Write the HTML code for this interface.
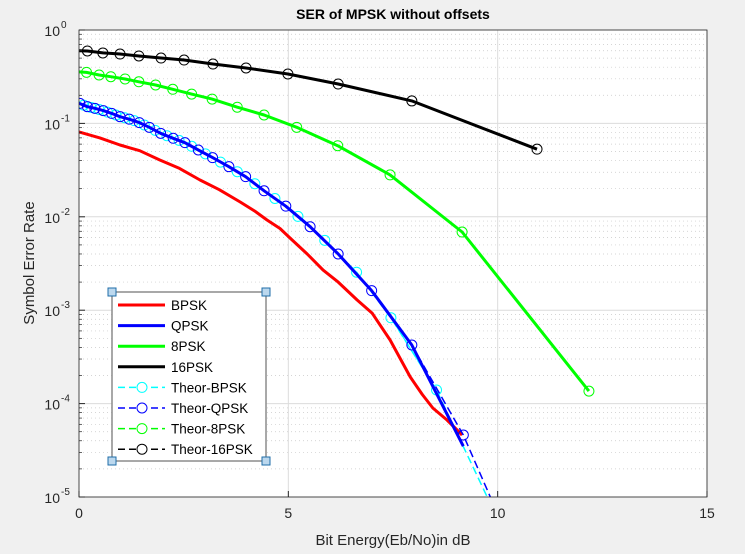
<!DOCTYPE html>
<html><head><meta charset="utf-8"><style>
body{margin:0;background:#f0f0f0;}
svg{display:block;font-family:"Liberation Sans",sans-serif;}
</style></head><body>
<svg id="chart" width="745" height="554" xmlns="http://www.w3.org/2000/svg">
<rect x="0" y="0" width="745" height="554" fill="#f0f0f0"/>
<rect x="79" y="30" width="628" height="467" fill="#fff"/>
<g id="grid"></g>
<g id="series"></g>
<rect x="79" y="30" width="628" height="467" fill="none" stroke="#262626" stroke-width="0.8"/>
<g id="axes"></g>
<text x="393" y="19" text-anchor="middle" font-size="14" font-weight="bold" fill="#000">SER of MPSK without offsets</text>
<text x="393" y="545" text-anchor="middle" font-size="15" fill="#262626">Bit Energy(Eb/No)in dB</text>
<text transform="translate(34,263) rotate(-90)" text-anchor="middle" font-size="15" fill="#262626">Symbol Error Rate</text>
<g id="legend"></g>
</svg>
<script>
const xTicks=[0,5,10,15];
const yTickExps=[0,-1,-2,-3,-4,-5];
const bpskX=[0.0,0.5,0.98,1.45,1.93,2.4,2.89,3.35,3.85,4.2,4.49,4.8,5.04,5.45,5.83,6.19,6.64,7.0,7.43,7.91,8.2,8.45,8.79,9.15];
const bpskY=[0.0809,0.0700,0.0587,0.0510,0.0406,0.0330,0.0248,0.0195,0.0144,0.0115,0.00925,0.0075,0.00593,0.0040,0.00269,0.0020,0.00129,0.00093,0.00048,0.000193,0.000125,0.0000897,0.0000667,0.0000461];
const qpskX=[0.0,0.2,0.38,0.58,0.78,0.98,1.2,1.44,1.68,1.95,2.25,2.53,2.85,3.19,3.58,3.98,4.42,4.94,5.52,6.19,6.99,7.95,9.18];
const qpskY=[0.164,0.151,0.145,0.137,0.128,0.118,0.111,0.102,0.0908,0.0783,0.0693,0.0622,0.0519,0.0430,0.0344,0.0269,0.0190,0.0130,0.00783,0.0040,0.00162,0.000424,0.000035];
const tqpskX=[0.02,0.2,0.38,0.58,0.78,0.98,1.2,1.44,1.68,1.95,2.25,2.53,2.85,3.19,3.58,3.98,4.42,4.94,5.52,6.19,6.99,7.95,9.18,10.0];
const tqpskY=[0.164,0.151,0.145,0.137,0.128,0.118,0.111,0.102,0.0908,0.0783,0.0693,0.0622,0.0519,0.0430,0.0344,0.0269,0.0190,0.0130,0.00783,0.0040,0.00162,0.000424,0.0000461,0.0000066];
const tbpskX=[0.11,0.29,0.48,0.68,0.88,1.09,1.32,1.56,1.82,2.1,2.39,2.69,3.02,3.38,3.78,4.2,4.68,5.23,5.87,6.63,7.45,8.54,10.0];
const tbpskY=[0.157,0.148,0.141,0.132,0.123,0.115,0.107,0.0962,0.0843,0.0738,0.0658,0.0569,0.0472,0.0385,0.0304,0.0226,0.0157,0.0101,0.0056,0.00255,0.00083,0.00014,0.0000058];
const psk8X=[0.18,0.48,0.76,1.1,1.43,1.83,2.24,2.69,3.18,3.78,4.42,5.2,6.18,7.43,9.15,12.18];
const psk8Y=[0.352,0.330,0.316,0.299,0.279,0.258,0.232,0.206,0.182,0.149,0.123,0.0908,0.0577,0.0281,0.00687,0.000136];
const sim8X=[0.0,0.18,0.48,0.76,1.1,1.43,1.83,2.24,2.69,3.18,3.78,4.42,5.2,6.18,7.43,9.15,12.18];
const sim8Y=[0.356,0.352,0.330,0.316,0.299,0.279,0.258,0.232,0.206,0.182,0.149,0.123,0.0908,0.0577,0.0281,0.00687,0.000136];
const psk16X=[0.2,0.57,0.98,1.43,1.96,2.51,3.2,3.99,4.99,6.19,7.95,10.94];
const psk16Y=[0.596,0.568,0.553,0.527,0.501,0.477,0.432,0.392,0.338,0.264,0.174,0.053];
const sim16X=[0.0,0.2,0.57,0.98,1.43,1.96,2.51,3.2,3.99,4.99,6.19,7.95,10.94];
const sim16Y=[0.60,0.596,0.568,0.553,0.527,0.501,0.477,0.432,0.392,0.338,0.264,0.174,0.053];

const NS="http://www.w3.org/2000/svg";
const L=79,R=707,T=30,B=497;
function sx(v){return L+(v-0)/(15-0)*(R-L);}
function sy(v){return T+(-Math.log10(v))/5*(B-T);}
function mk(tag,attrs,parent){const e=document.createElementNS(NS,tag);for(const k in attrs)e.setAttribute(k,attrs[k]);parent.appendChild(e);return e;}
const grid=document.getElementById('grid'),axes=document.getElementById('axes'),series=document.getElementById('series'),legend=document.getElementById('legend');

for(let d=0;d<5;d++){for(let m=2;m<=9;m++){const y=sy(Math.pow(10,-d-1)*m);
 const ln=mk('line',{x1:L,x2:R,y1:y,y2:y,stroke:'#c8c8c8','stroke-width':0.7,'stroke-dasharray':'1,3'},grid);
 
 
 const tk=mk('line',{x1:L,x2:L+3,y1:y,y2:y,stroke:'#262626','stroke-width':0.7},axes);
 
 }}
xTicks.forEach(v=>{const x=sx(v);
 const g=mk('line',{x1:x,x2:x,y1:T,y2:B,stroke:'#dcdcdc','stroke-width':1},grid);
 
 
 const tk=mk('line',{x1:x,x2:x,y1:B,y2:B-6,stroke:'#262626','stroke-width':1},axes);
 
 
 const t=mk('text',{x:x,y:518,'text-anchor':'middle','font-size':14,fill:'#262626'},axes);
 
 
 t.textContent=v;});
yTickExps.forEach(e=>{const y=sy(Math.pow(10,e));
 const g=mk('line',{x1:L,x2:R,y1:y,y2:y,stroke:'#dcdcdc','stroke-width':1},grid);
 
 
 const tk=mk('line',{x1:L,x2:L+6,y1:y,y2:y,stroke:'#262626','stroke-width':1},axes);
 
 
 const t=mk('text',{x:L-19,y:y+6,'text-anchor':'end','font-size':14,fill:'#262626'},axes);
 
 
 t.textContent='10';
 const s=mk('text',{x:L-18,y:y-2,'text-anchor':'start','font-size':10,fill:'#262626'},axes);
 
 
 s.textContent=e;});

const clip=mk('clipPath',{id:'pc'},document.getElementById('chart'));
mk('rect',{x:L,y:T,width:R-L,height:B-T},clip);
series.setAttribute('clip-path','url(#pc)');
function pts(xs,ys){return xs.map((x,i)=>sx(x).toFixed(1)+','+sy(ys[i]).toFixed(1)).join(' ');}
function line(xs,ys,color,w,dash,name,markers){
 const p=mk('polyline',{points:pts(xs,ys),fill:'none',stroke:color,'stroke-width':w,'stroke-linejoin':'round'},series);
 if(dash)p.setAttribute('stroke-dasharray',dash);
 
 
 if(markers){xs.forEach((x,i)=>{const c=mk('circle',{cx:sx(x),cy:sy(ys[i]),r:5,fill:'none',stroke:color,'stroke-width':1},series);
 
 });}
}
line(bpskX,bpskY,'#ff0000',3,null,'bpsk-line',false);
line(sim8X,sim8Y,'#00ff00',3,null,'8psk-line',false);
line(sim16X,sim16Y,'#000000',3,null,'16psk-line',false);
line(tbpskX,tbpskY,'#00ffff',1.5,'8,4','theor-bpsk-line',false);
line(tbpskX.slice(0,-1),tbpskY.slice(0,-1),'#00ffff',1,null,'theor-bpsk',true);
line(qpskX,qpskY,'#0000ff',3,null,'qpsk-line',false);
line(tqpskX,tqpskY,'#0000ff',1.5,'8,4','theor-qpsk-line',false);
tqpskX.slice(0,-1).forEach((x,i)=>{const c=mk('circle',{cx:sx(x),cy:sy(tqpskY[i]),r:5,fill:'none',stroke:'#0000ff','stroke-width':1},series);
 
 });
psk8X.forEach((x,i)=>{const c=mk('circle',{cx:sx(x),cy:sy(psk8Y[i]),r:5,fill:'none',stroke:'#00ff00','stroke-width':1},series);
 
 });
psk16X.forEach((x,i)=>{const c=mk('circle',{cx:sx(x),cy:sy(psk16Y[i]),r:5,fill:'none',stroke:'#000000','stroke-width':1},series);
 
 });

// legend
const lb=mk('rect',{x:112,y:292,width:154,height:169,fill:'#fff',stroke:'#8c8c8c','stroke-width':1.5},legend);


[[112,292],[266,292],[112,461],[266,461]].forEach(p=>{const h=mk('rect',{x:p[0]-4,y:p[1]-4,width:8,height:8,fill:'#bcd8ee',stroke:'#1f6ea8','stroke-width':1},legend);
 
 });
const entries=[['BPSK','#ff0000',0],['QPSK','#0000ff',0],['8PSK','#00ff00',0],['16PSK','#000000',0],['Theor-BPSK','#00ffff',1],['Theor-QPSK','#0000ff',1],['Theor-8PSK','#00ff00',1],['Theor-16PSK','#000000',1]];
entries.forEach((e,i)=>{const y=305+i*20.6;
 const ln=mk('line',{x1:118,x2:165,y1:y,y2:y,stroke:e[1],'stroke-width':e[2]?1.5:3},legend);
 if(e[2])ln.setAttribute('stroke-dasharray','7,4');
 
 
 if(e[2]){const c=mk('circle',{cx:142,cy:y,r:5,fill:'#fff',stroke:e[1],'stroke-width':1},legend);
 
 }
 const t=mk('text',{x:171,y:y+5,'font-size':13.5,fill:'#000'},legend);
 
 
 t.textContent=e[0];});
</script>
</body></html>
